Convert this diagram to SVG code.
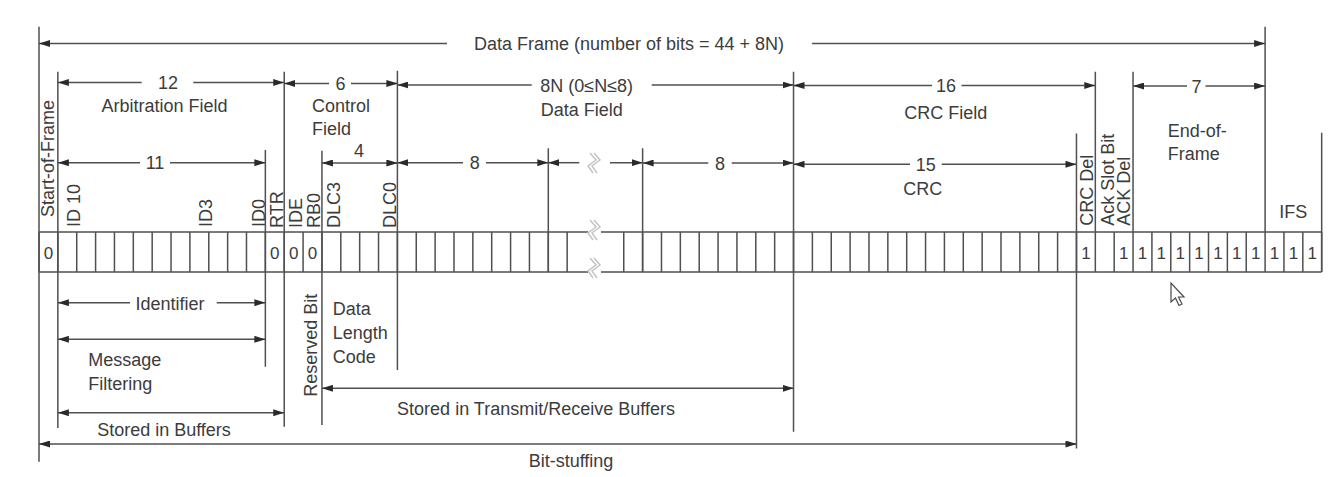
<svg xmlns="http://www.w3.org/2000/svg" width="1330" height="477" viewBox="0 0 1330 477">
<style>
.ln{stroke:#505050;stroke-width:1.5;fill:none}
.dm{stroke:#505050;stroke-width:1.5;fill:none}
.s{marker-start:url(#ah)}
.e{marker-end:url(#ah)}
.b{marker-start:url(#ah);marker-end:url(#ah)}
.t{font-family:"Liberation Sans",Arial,sans-serif;font-size:18px;fill:#3c3c3c}
.m{text-anchor:middle}
.bit{font-family:"Liberation Sans",Arial,sans-serif;font-size:17px;fill:#3c3c3c;text-anchor:middle}
.brk{stroke:#c4c4c4;stroke-width:1.5;fill:none}
</style>
<defs>
<marker id="ah" markerUnits="userSpaceOnUse" markerWidth="11" markerHeight="7" refX="11" refY="3.5" orient="auto-start-reverse" viewBox="0 0 11 7">
<path d="M0,0 L11,3.5 L0,7 z" fill="#2a2a2a"/>
</marker>
<path id="sq" d="M-3,-10 L3,-3 L-5,3 L0,10 M1,-10 L7,-3 L-1,3 L4,10"/>
</defs>
<rect width="1330" height="477" fill="#ffffff"/>

<g id="frame-row">
<path class="ln" d="M39,232 H588 M601,232 H1321.68 M39,272 H588 M601,272 H1321.68"/>
<path class="ln" d="M39,232V272 M57.86,232V272 M76.73,232V272 M95.59,232V272 M114.45,232V272 M133.32,232V272 M152.18,232V272 M171.04,232V272 M189.9,232V272 M208.77,232V272 M227.63,232V272 M246.49,232V272 M265.36,232V272 M284.22,232V272 M303.08,232V272 M321.95,232V272 M340.81,232V272 M359.67,232V272 M378.53,232V272 M397.4,232V272 M416.26,232V272 M435.12,232V272 M453.99,232V272 M472.85,232V272 M491.71,232V272 M510.58,232V272 M529.44,232V272 M548.3,232V272 M567.16,232V272 M623.75,232V272 M642.62,232V272 M661.48,232V272 M680.34,232V272 M699.21,232V272 M718.07,232V272 M736.93,232V272 M755.79,232V272 M774.66,232V272 M793.52,232V272 M812.38,232V272 M831.25,232V272 M850.11,232V272 M868.97,232V272 M887.84,232V272 M906.7,232V272 M925.56,232V272 M944.42,232V272 M963.29,232V272 M982.15,232V272 M1001.01,232V272 M1019.88,232V272 M1038.74,232V272 M1057.6,232V272 M1076.47,232V272 M1095.33,232V272 M1114.19,232V272 M1133.05,232V272 M1151.92,232V272 M1170.78,232V272 M1189.64,232V272 M1208.51,232V272 M1227.37,232V272 M1246.23,232V272 M1265.1,232V272 M1283.96,232V272 M1302.82,232V272 M1321.68,232V272"/>
<use href="#sq" class="brk" transform="translate(593,230)"/>
<use href="#sq" class="brk" transform="translate(593,268)"/>
</g>

<g id="sof">
<text class="t" transform="translate(54,217) rotate(-90)">Start-of-Frame</text>
<text class="bit" x="48.43" y="258.5">0</text>
</g>

<g id="arbitration">
<text class="t m" x="164.5" y="111.5">Arbitration Field</text>
<text class="t" transform="translate(79.5,227) rotate(-90)">ID 10</text>
<text class="t" transform="translate(211.5,227) rotate(-90)">ID3</text>
<text class="t" transform="translate(264.5,227) rotate(-90)">ID0</text>
<text class="t" transform="translate(283,228) rotate(-90)">RTR</text>
<text class="bit" x="274.79" y="258.5">0</text>
<text class="t m" x="170" y="309.5">Identifier</text>
<text class="t" x="88.3" y="365.7">Message</text>
<text class="t" x="88.3" y="389.5">Filtering</text>
<text class="t m" x="164" y="436">Stored in Buffers</text>
</g>

<g id="control">
<text class="t" x="312" y="111.5">Control</text>
<text class="t" x="312" y="135">Field</text>
<text class="t" transform="translate(301.5,228) rotate(-90)">IDE</text>
<text class="t" transform="translate(320,228) rotate(-90)">RB0</text>
<text class="t" transform="translate(340,228) rotate(-90)">DLC3</text>
<text class="t" transform="translate(396,228) rotate(-90)">DLC0</text>
<text class="bit" x="293.65" y="258.5">0</text>
<text class="bit" x="312.52" y="258.5">0</text>
<text class="t" transform="translate(316.5,396.7) rotate(-90)">Reserved Bit</text>
<text class="t" x="332.7" y="315">Data</text>
<text class="t" x="332.7" y="338.5">Length</text>
<text class="t" x="332.7" y="362.5">Code</text>
</g>

<g id="data">
<text class="t m" x="581.7" y="115.7">Data Field</text>
<text class="t m" x="536" y="415">Stored in Transmit/Receive Buffers</text>
</g>

<g id="crc">
<text class="t m" x="945.7" y="119">CRC Field</text>
<text class="t m" x="922.8" y="195">CRC</text>
<text class="t" transform="translate(1093,225.7) rotate(-90)">CRC Del</text>
<text class="bit" x="1085.9" y="258.5">1</text>
</g>

<g id="ack">
<text class="t" transform="translate(1113.5,225.7) rotate(-90)">Ack Slot Bit</text>
<text class="t" transform="translate(1130,225.7) rotate(-90)">ACK Del</text>
<text class="bit" x="1123.62" y="258.5">1</text>
</g>

<g id="eof">
<text class="t" x="1167.7" y="136.7">End-of-</text>
<text class="t" x="1167.7" y="160">Frame</text>
<text class="bit" x="1142.49" y="258.5">1</text>
<text class="bit" x="1161.35" y="258.5">1</text>
<text class="bit" x="1180.21" y="258.5">1</text>
<text class="bit" x="1199.08" y="258.5">1</text>
<text class="bit" x="1217.94" y="258.5">1</text>
<text class="bit" x="1236.8" y="258.5">1</text>
<text class="bit" x="1255.66" y="258.5">1</text>
</g>

<g id="ifs">
<text class="t m" x="1293.3" y="218.3">IFS</text>
<text class="bit" x="1274.53" y="258.5">1</text>
<text class="bit" x="1293.39" y="258.5">1</text>
<text class="bit" x="1312.25" y="258.5">1</text>
</g>

<g id="connectors">
<path class="ln" d="M39,26.7V461.7 M57.86,71.7V428 M265.36,150V366.7 M284.22,71.7V426.7 M321.95,150.7V425 M397.4,70.7V370 M548.3,148.3V272 M642.62,148.3V272 M793.52,71.7V431.7 M1076.47,133.5V448.5 M1095.33,71.7V232 M1133.05,71.7V232 M1265.1,26.7V232 M1321.68,132.7V272"/>
<path class="dm s" d="M39,43.5 H447"/>
<path class="dm e" d="M812,43.5 H1265.1"/>
<text class="t m" x="629" y="50">Data Frame (number of bits = 44 + 8N)</text>
<path class="dm s" d="M57.86,82.5 H141.7"/>
<path class="dm e" d="M193.3,82.5 H284.22"/>
<text class="t m" x="168" y="89">12</text>
<path class="dm s" d="M284.22,83.5 H329"/>
<path class="dm e" d="M351,83.5 H397.4"/>
<text class="t m" x="340.5" y="90">6</text>
<path class="dm s" d="M397.4,85 H531.7"/>
<path class="dm e" d="M651.7,85 H793.52"/>
<text class="t m" x="586.7" y="91.5">8N (0≤N≤8)</text>
<path class="dm s" d="M793.52,85.5 H932"/>
<path class="dm e" d="M961.5,85.5 H1095.33"/>
<text class="t m" x="946" y="92">16</text>
<path class="dm s" d="M1133.05,86 H1187"/>
<path class="dm e" d="M1205.5,86 H1265.1"/>
<text class="t m" x="1196.5" y="92.5">7</text>
<path class="dm s" d="M57.86,162.7 H140"/>
<path class="dm e" d="M170,162.7 H265.36"/>
<text class="t m" x="155" y="169.2">11</text>
<path class="dm b" d="M321.95,163 H397.4"/>
<text class="t m" x="359" y="157.3">4</text>
<path class="dm s" d="M397.4,162.7 H463"/>
<path class="dm e" d="M486,162.7 H548.3"/>
<text class="t m" x="474.7" y="169.2">8</text>
<path class="dm s" d="M548.3,162.7 H579.3"/>
<path class="dm e" d="M610,162.7 H642.62"/>
<use href="#sq" class="brk" transform="translate(593,163)"/>
<path class="dm s" d="M642.62,163 H708.3"/>
<path class="dm e" d="M731.7,163 H793.52"/>
<text class="t m" x="720" y="169.5">8</text>
<path class="dm s" d="M793.52,164.3 H910"/>
<path class="dm e" d="M941.7,164.3 H1076.47"/>
<text class="t m" x="925.7" y="170.8">15</text>
<path class="dm s" d="M57.86,302.7 H130"/>
<path class="dm e" d="M216.7,302.7 H265.36"/>
<path class="dm b" d="M57.86,339.3 H265.36"/>
<path class="dm b" d="M57.86,412.7 H284.22"/>
<path class="dm b" d="M321.95,388.3 H793.52"/>
<path class="dm b" d="M39,444 H1076.47"/>
<text class="t m" x="571" y="467">Bit-stuffing</text>
</g>

<path d="M0,0 V19 L4.5,15 L8,22.5 L11,21 L7.5,14 L13,14 Z" transform="translate(1171,283)" fill="#ffffff" stroke="#4a4a4a" stroke-width="1.2"/>
</svg>
